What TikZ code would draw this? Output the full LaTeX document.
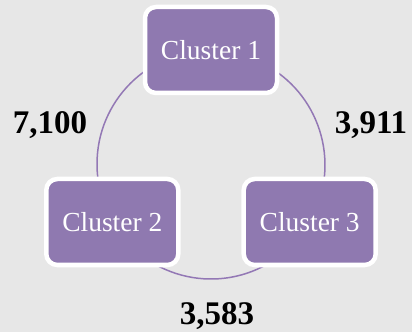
\documentclass[tikz,border=0pt]{standalone}
\usepackage{fontspec}
\setmainfont{Liberation Serif}
\definecolor{bg}{HTML}{E7E7E7}
\definecolor{boxfill}{HTML}{8F79B0}
\definecolor{ring}{HTML}{9378B5}
\begin{document}
\begin{tikzpicture}[x=1pt,y=1pt,
  cluster/.style={rectangle, rounded corners=11pt, fill=boxfill, draw=white,
    line width=4.5pt, minimum width=132pt, minimum height=86pt,
    text=white, font=\fontsize{27.5}{31}\selectfont, inner sep=0pt},
  ringline/.style={draw=ring, line width=1.5pt},
  weight/.style={font=\fontsize{33}{37}\selectfont\bfseries, text=black}]
  % canvas
  \fill[bg] (0,0) rectangle (412,332);
  \useasboundingbox (0,0) rectangle (412,332);
  % anchor points on the ring
  \coordinate (p1) at (211,282);
  \coordinate (p2) at (112.3,110);
  \coordinate (p3) at (309.7,110);
  % ring segments between the clusters
  \draw[ringline] (p1) arc[start angle=90, end angle=210, radius=114];
  \draw[ringline] (p2) arc[start angle=210, end angle=330, radius=114];
  \draw[ringline] (p3) arc[start angle=-30, end angle=90, radius=114];
  % clusters
  \node[cluster] (c1) at (p1) {Cluster 1};
  \node[cluster] (c2) at (p2) {Cluster 2};
  \node[cluster] (c3) at (p3) {Cluster 3};
  % edge weights
  \node[weight] (w12) at (50,207) {7,100};
  \node[weight] (w13) at (371,207) {3,911};
  \node[weight] (w23) at (217,16) {3,583};
\end{tikzpicture}
\end{document}
